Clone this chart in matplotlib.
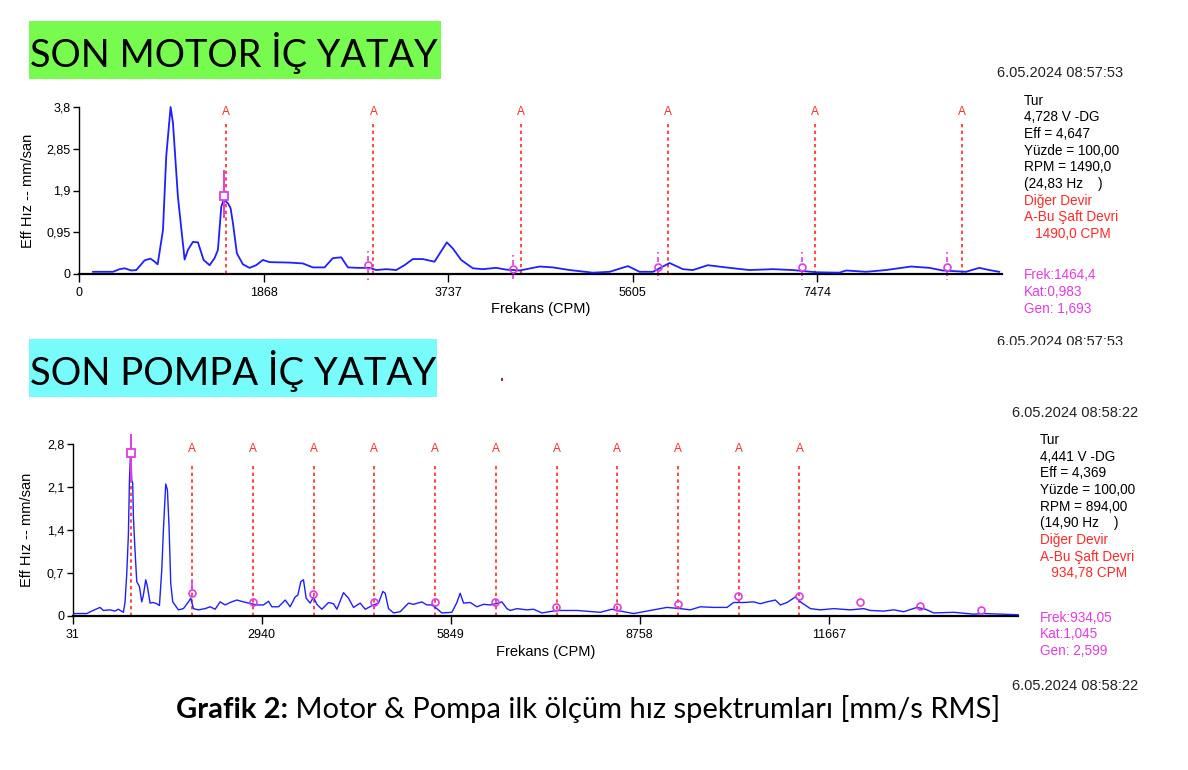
import matplotlib
matplotlib.use('Agg')
import matplotlib.pyplot as plt
from matplotlib.patches import Rectangle

W, H = 1188, 770

# --- SON MOTOR IC YATAY spectrum (CPM, mm/s) ---
motor_f = [142, 344, 411, 462, 529, 580, 664, 722, 755, 796, 850, 883, 927, 951, 1001,
           1069, 1103, 1153, 1204, 1261, 1322, 1372, 1406, 1440, 1464, 1507, 1534, 1558, 1598, 1659,
           1726, 1793, 1861, 1928, 2131, 2266, 2367, 2485, 2569, 2654, 2722, 2823, 2941, 3008, 3109,
           3210, 3294, 3379, 3480, 3598, 3723, 3784, 3868, 3986, 4087, 4222, 4323, 4460, 4662, 4797,
           4966, 5202, 5371, 5556, 5674, 5809, 5977, 6112, 6213, 6365, 6584, 6786, 7022, 7224, 7460,
           7696, 7764, 7966, 8168, 8421, 8607, 8741, 8977, 9112, 9213, 9314]
motor_v = [0.05, 0.05, 0.11, 0.13, 0.08, 0.09, 0.31, 0.35, 0.30, 0.22, 1.00, 2.68, 3.80, 3.44, 1.76,
           0.33, 0.55, 0.73, 0.72, 0.32, 0.20, 0.36, 0.55, 1.53, 1.69, 1.61, 1.50, 1.16, 0.47, 0.22,
           0.14, 0.20, 0.32, 0.27, 0.26, 0.24, 0.15, 0.15, 0.36, 0.38, 0.15, 0.14, 0.14, 0.09, 0.11,
           0.09, 0.20, 0.34, 0.34, 0.28, 0.72, 0.58, 0.32, 0.13, 0.11, 0.14, 0.10, 0.08, 0.17, 0.15,
           0.09, 0.03, 0.05, 0.18, 0.05, 0.05, 0.25, 0.11, 0.09, 0.20, 0.14, 0.09, 0.11, 0.09, 0.04,
           0.03, 0.08, 0.05, 0.09, 0.17, 0.14, 0.08, 0.05, 0.14, 0.09, 0.05]
motor_a = [1490, 2980, 4470, 5960, 7450, 8940]          # A-Bu Saft Devri harmonics
motor_cursor = (1464.4, 1.78)
motor_harm_f = [2929, 4393, 5858, 7322, 8786]
motor_harm_v = [0.20, 0.11, 0.17, 0.17, 0.17]
motor_xticks = [0, 1868, 3737, 5605, 7474]
motor_yticks = [0, 0.95, 1.9, 2.85, 3.8]
motor_ylabels = ['0', '0,95', '1,9', '2,85', '3,8']

# --- SON POMPA IC YATAY spectrum ---
pump_f = [52, 247, 324, 452, 503, 606, 683, 734, 811, 837, 863, 888, 904, 924, 940, 955, 965, 991,
          1017, 1058, 1094, 1119, 1155, 1181, 1222, 1263, 1325, 1366, 1402, 1427, 1463, 1489, 1514,
          1540, 1571, 1658, 1735, 1812, 1848, 1889, 1966, 2069, 2146, 2223, 2300, 2377, 2454, 2557,
          2660, 2737, 2865, 2968, 3045, 3096, 3199, 3302, 3378, 3455, 3496, 3542, 3583, 3624, 3686,
          3737, 3789, 3866, 3968, 4045, 4097, 4199, 4276, 4353, 4456, 4533, 4661, 4738, 4805, 4841,
          4892, 4969, 5072, 5200, 5277, 5405, 5482, 5559, 5636, 5713, 5867, 5944, 5995, 6047, 6149,
          6252, 6355, 6457, 6585, 6637, 6714, 6765, 6868, 7022, 7124, 7253, 7484, 7792, 8151, 8331,
          8510, 8664, 8920, 9177, 9383, 9537, 9691, 9896, 10102, 10204, 10358, 10512, 10615, 10718,
          10846, 10923, 11026, 11154, 11231, 11385, 11539, 11744, 12001, 12206, 12309, 12514, 12668,
          12822, 13027, 13156, 13284, 13592, 13899, 14053, 14310, 14583]
pump_v = [0.04, 0.04, 0.08, 0.14, 0.09, 0.10, 0.08, 0.11, 0.06, 0.23, 0.69, 1.32, 2.19, 2.76, 2.21, 2.16, 1.62, 1.05,
          0.56, 0.48, 0.23, 0.34, 0.59, 0.48, 0.21, 0.22, 0.20, 0.17, 0.75, 1.40, 2.15, 2.05, 1.45,
          0.53, 0.23, 0.10, 0.12, 0.23, 0.29, 0.12, 0.10, 0.12, 0.15, 0.11, 0.23, 0.18, 0.22, 0.26,
          0.23, 0.21, 0.18, 0.18, 0.24, 0.15, 0.15, 0.26, 0.15, 0.31, 0.34, 0.56, 0.59, 0.29, 0.21,
          0.31, 0.19, 0.11, 0.22, 0.20, 0.11, 0.38, 0.29, 0.14, 0.21, 0.11, 0.18, 0.21, 0.40, 0.37,
          0.12, 0.05, 0.07, 0.21, 0.19, 0.23, 0.18, 0.18, 0.12, 0.05, 0.06, 0.22, 0.37, 0.21, 0.22,
          0.15, 0.19, 0.18, 0.21, 0.23, 0.12, 0.09, 0.12, 0.10, 0.11, 0.05, 0.09, 0.09, 0.06, 0.11,
          0.07, 0.04, 0.09, 0.14, 0.12, 0.10, 0.15, 0.14, 0.14, 0.22, 0.22, 0.23, 0.20, 0.23,
          0.26, 0.18, 0.22, 0.31, 0.23, 0.12, 0.10, 0.12, 0.10, 0.12, 0.09, 0.08, 0.10,
          0.07, 0.14, 0.11, 0.05, 0.06, 0.03, 0.04, 0.03, 0.02]
pump_a = [935, 1870, 2804, 3739, 4674, 5609, 6543, 7478, 8413, 9348, 10283, 11217]
pump_cursor = (934.05, 2.66)
pump_harm_f = [1868, 2802, 3736, 4670, 5604, 6538, 7472, 8406, 9340, 10274, 11209, 12143, 13077, 14011]
pump_harm_v = [0.37, 0.23, 0.36, 0.23, 0.23, 0.22, 0.14, 0.14, 0.19, 0.33, 0.33, 0.22, 0.17, 0.10]
pump_xticks = [31, 2940, 5849, 8758, 11667]
pump_yticks = [0, 0.7, 1.4, 2.1, 2.8]
pump_ylabels = ['0', '0,7', '1,4', '2,1', '2,8']

motor_info = ['Tur', '4,728 V -DG', 'Eff = 4,647', 'Yüzde = 100,00', 'RPM = 1490,0', '(24,83 Hz    )']
motor_red = ['Diğer Devir', 'A-Bu Şaft Devri', '   1490,0 CPM']
motor_cur = ['Frek:1464,4', 'Kat:0,983', 'Gen: 1,693']
pump_info = ['Tur', '4,441 V -DG', 'Eff = 4,369', 'Yüzde = 100,00', 'RPM = 894,00', '(14,90 Hz    )']
pump_red = ['Diğer Devir', 'A-Bu Şaft Devri', '   934,78 CPM']
pump_cur = ['Frek:934,05', 'Kat:1,045', 'Gen: 2,599']

BLUE = '#1f1fff'
RED = '#ff2a2a'
MAG = '#e23ce2'
SANS = 'Liberation Sans'

fig = plt.figure(figsize=(W / 100, H / 100), dpi=100)
fig.patch.set_facecolor('white')


def fx(px):
    return px / W


def fy(py):
    return 1 - py / H


def spectrum(rect, f, v, xlim, ylim, xt, yt, ytl, a_lines, a_top, a_lab, cursor, cur_span,
             hf, hv, lw, label_x, xlabel_y):
    ax = fig.add_axes(rect)
    ax.plot(f, v, color=BLUE, lw=lw, zorder=3, clip_on=False)
    for k, fa in enumerate(a_lines):
        ax.plot([fa, fa], [0, a_top], color=RED, lw=1.2, ls=(0, (2, 2)), zorder=2)
        if a_lab[k]:
            ax.text(fa, ylim[1] * 0.972, 'A', color=RED, fontsize=8.5, family=SANS,
                    ha='center', va='center')
    ax.plot([cursor[0], cursor[0]], cur_span, color=MAG, lw=1.4, zorder=4, clip_on=False)
    ax.plot([cursor[0]], [cursor[1]], marker='s', ms=6, mfc='white', mec=MAG, mew=1.3,
            zorder=5, clip_on=False)
    ax.plot(hf, hv, ls='none', marker='o', ms=5, mfc='none', mec=MAG, mew=1.2, zorder=5)
    ax.set_xlim(*xlim)
    ax.set_ylim(*ylim)
    ax.set_xticks(xt)
    ax.set_xticklabels([str(t) for t in xt])
    ax.set_yticks(yt)
    ax.set_yticklabels(ytl)
    for s in ('top', 'right'):
        ax.spines[s].set_visible(False)
    ax.spines['left'].set_linewidth(1.0)
    ax.spines['bottom'].set_linewidth(1.6)
    ax.tick_params(axis='y', direction='out', length=4, width=1, pad=2, labelsize=9)
    ax.tick_params(axis='x', direction='out', length=6, width=1, pad=3, labelsize=9)
    for lab in ax.get_xticklabels() + ax.get_yticklabels():
        lab.set_family(SANS)
    ax.set_xlabel('Frekans (CPM)', fontsize=10.5, family=SANS)
    ax.xaxis.set_label_coords(0.5, xlabel_y)
    ax.xaxis.label.set_va('center')
    ax.set_ylabel('Eff Hız -- mm/san', fontsize=10.5, family=SANS)
    ax.yaxis.set_label_coords(label_x, 0.5)
    ax.yaxis.label.set_va('center')
    ax.patch.set_alpha(0)
    return ax


ax1 = spectrum([fx(79), fy(274), 923 / W, 167 / H], motor_f, motor_v, (0, 9342), (0, 3.8),
               motor_xticks, motor_yticks, motor_ylabels, motor_a, 3.44, [True] * 6,
               motor_cursor, [1.30, 2.35], motor_harm_f, motor_harm_v, 1.3,
               (28 - 79) / 923, (274 - 309.5) / 167)
for hx, hy in zip(motor_harm_f, motor_harm_v):
    ax1.plot([hx, hx], [hy + 0.1, hy + 0.33], color=MAG, lw=1.2, ls=(0, (3, 2)), clip_on=False)
    ax1.plot([hx, hx], [hy - 0.1, -0.14], color=MAG, lw=1.2, ls=(0, (3, 2)), clip_on=False)

ax2 = spectrum([fx(72.7), fy(616), 945 / W, 172 / H], pump_f, pump_v, (31, 14576), (0, 2.8),
               pump_xticks, pump_yticks, pump_ylabels, pump_a, 2.49, [False] + [True] * 11,
               pump_cursor, [2.19, 2.95], pump_harm_f, pump_harm_v, 1.0,
               (26.7 - 72.7) / 945, (616 - 652) / 172)
ax2.plot([pump_harm_f[0]] * 2, [pump_harm_v[0] + 0.07, pump_harm_v[0] + 0.2], color=MAG, lw=1.2)


# right-hand info panels
def info_block(x, y0, date_y, date2_y, date_x, info, red, cur, cur_y, stamp):
    step = 16.65
    fig.text(fx(date_x), fy(date_y), stamp, fontsize=10.5, family=SANS,
             va='center', color='#222222')
    for i, s in enumerate(info):
        fig.text(fx(x), fy(y0 + i * step), s, fontsize=9.8, family=SANS, va='center')
    for j, s in enumerate(red):
        fig.text(fx(x), fy(y0 + (len(info) + j) * step), s, fontsize=9.8, family=SANS,
                 va='center', color=RED)
    for j, s in enumerate(cur):
        fig.text(fx(x), fy(cur_y + j * step), s, fontsize=9.8, family=SANS, va='center', color=MAG)
    fig.text(fx(date_x), fy(date2_y), stamp, fontsize=10.5, family=SANS,
             va='center', color='#222222')


info_block(1024, 100.7, 73, 341.7, 996.7, motor_info, motor_red, motor_cur, 275.2,
           '6.05.2024 08:57:53')
info_block(1040, 440, 413.3, 686, 1011.7, pump_info, pump_red, pump_cur, 617.7,
           '6.05.2024 08:58:22')
# lower date of the motor panel is cut off in the screenshot
fig.patches.append(Rectangle((fx(985), fy(362)), 170 / W, (362 - 344.5) / H,
                             transform=fig.transFigure, facecolor='white', edgecolor='none',
                             zorder=10))

# title boxes
renderer = fig.canvas.get_renderer()


def title(text, box, color, x0, x1, base):
    fig.patches.append(Rectangle((fx(box[0]), fy(box[3])), (box[2] - box[0]) / W,
                                 (box[3] - box[1]) / H, transform=fig.transFigure,
                                 facecolor=color, edgecolor='none', zorder=0))
    t = fig.text(fx(x0), fy(base), text, fontsize=30, family='Lato', va='baseline', ha='left')
    w = t.get_window_extent(renderer).width
    t.set_fontsize(30 * (x1 - x0) / w)


title('SON MOTOR İÇ YATAY', (29, 20.7, 441, 79), '#76fb4e', 30, 437, 67.3)
title('SON POMPA İÇ YATAY', (29, 339, 437, 397), '#78fbfb', 30, 435, 385)

# stray mark
fig.patches.append(Rectangle((fx(501), fy(381)), 2 / W, 3 / H, transform=fig.transFigure,
                             facecolor='#9a3030', edgecolor='none'))

# caption
cb = fig.text(fx(176), fy(718.3), 'Grafik 2:', fontsize=20, family='Lato', weight='bold',
              va='baseline', ha='left')
cr = fig.text(fx(176), fy(718.3), ' Motor & Pompa ilk ölçüm hız spektrumları [mm/s RMS]',
              fontsize=20, family='Lato', va='baseline', ha='left')
wb = cb.get_window_extent(renderer).width
wr = cr.get_window_extent(renderer).width
scale = (1000 - 176) / (wb + wr)
cb.set_fontsize(20 * scale)
cr.set_fontsize(20 * scale)
cr.set_x(fx(176 + wb * scale))

fig.savefig('out.png', dpi=100, facecolor='white')
